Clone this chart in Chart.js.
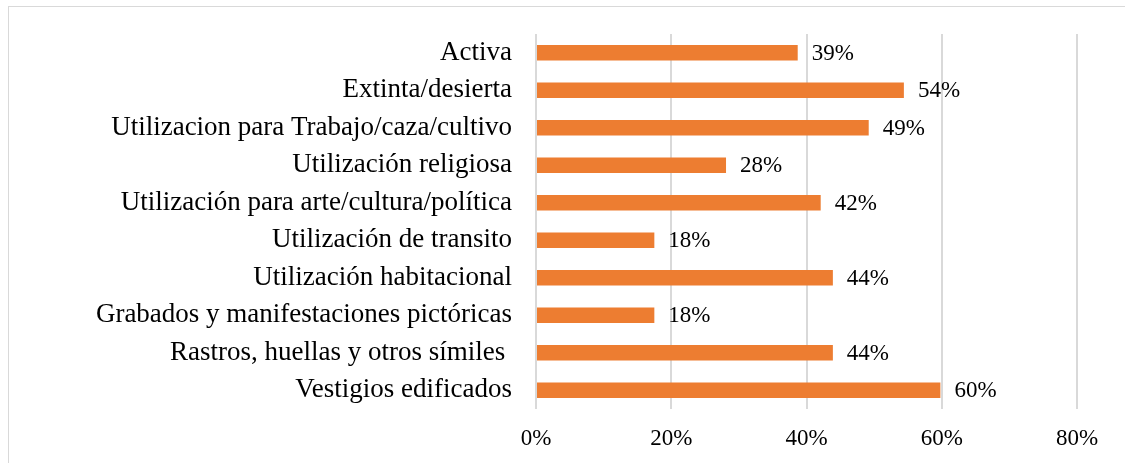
<!DOCTYPE html>
<html>
<head>
<meta charset="utf-8">
<script src="https://cdn.jsdelivr.net/npm/chart.js@4"></script>
<style>
  body { margin: 0; background: #fff; }
  #frame { position: absolute; left: 8px; top: 6px; width: 1130px; height: 470px; border: 1px solid #d9d9d9; }
  #wrap { position: absolute; left: 0; top: 0; width: 1125px; height: 463px; }
</style>
</head>
<body>
<div id="frame"></div>
<div id="wrap"><canvas id="chart"></canvas></div>
<script>
(function(){
  'use strict';

  // categories, top to bottom
  let categories = [
    'Activa',
    'Extinta/desierta',
    'Utilizacion para Trabajo/caza/cultivo',
    'Utilización religiosa',
    'Utilización para arte/cultura/política',
    'Utilización de transito',
    'Utilización habitacional',
    'Grabados y manifestaciones pictóricas',
    'Rastros, huellas y otros símiles ',
    'Vestigios edificados'
  ];
  // values in percent
  let values = [38.7, 54.4, 49.2, 28.1, 42.1, 17.5, 43.9, 17.5, 43.9, 59.8];
  let valueLabels = ['39%', '54%', '49%', '28%', '42%', '18%', '44%', '18%', '44%', '60%'];
  let tickValues = [0, 20, 40, 60, 80];

  let serif = '"Liberation Serif", "Times New Roman", serif';

  // draws the % text after each bar
  let barLabels = {
    id: 'barLabels',
    afterDatasetsDraw(chart) {
      let ctx = chart.ctx;
      let meta = chart.getDatasetMeta(0);
      ctx.save();
      ctx.font = '23px ' + serif;
      ctx.fillStyle = '#000';
      ctx.textAlign = 'left';
      ctx.textBaseline = 'middle';
      meta.data.forEach(function(bar, i) {
        ctx.fillText(valueLabels[i], bar.x + 14, bar.y + 1);
      });
      ctx.restore();
    }
  };

  let canvas = document.getElementById('chart');

  new Chart(canvas, {
    type: 'bar',
    data: {
      labels: categories,
      datasets: [{
        data: values,
        backgroundColor: '#ed7d31',
        barPercentage: 0.9,
        categoryPercentage: 0.46
      }]
    },
    options: {
      indexAxis: 'y',
      responsive: true,
      maintainAspectRatio: false,
      animation: false,
      layout: { padding: { top: 34, right: 48, left: 0, bottom: 0 } },
      plugins: {
        legend: { display: false },
        tooltip: { enabled: false }
      },
      scales: {
        x: {
          min: 0,
          max: 80,
          afterBuildTicks(scale) {
            scale.ticks = tickValues.map(function(v) { return { value: v }; });
          },
          afterFit(scale) {
            scale.height = 54;
            scale.paddingLeft = 0;
            scale.paddingRight = 0;
          },
          grid: { color: '#d9d9d9', lineWidth: 2, drawTicks: false },
          border: { display: false },
          ticks: {
            padding: 16,
            color: '#000',
            font: { family: serif, size: 23 },
            callback: function(v) { return v + '%'; }
          }
        },
        y: {
          afterFit(scale) {
            scale.width = 536;
            scale.paddingTop = 0;
            scale.paddingBottom = 0;
          },
          grid: { display: false, drawTicks: false },
          border: { display: false },
          ticks: {
            padding: 24,
            color: '#000',
            font: { family: serif, size: 27 }
          }
        }
      }
    },
    plugins: [barLabels]
  });
})();
</script>
</body>
</html>
